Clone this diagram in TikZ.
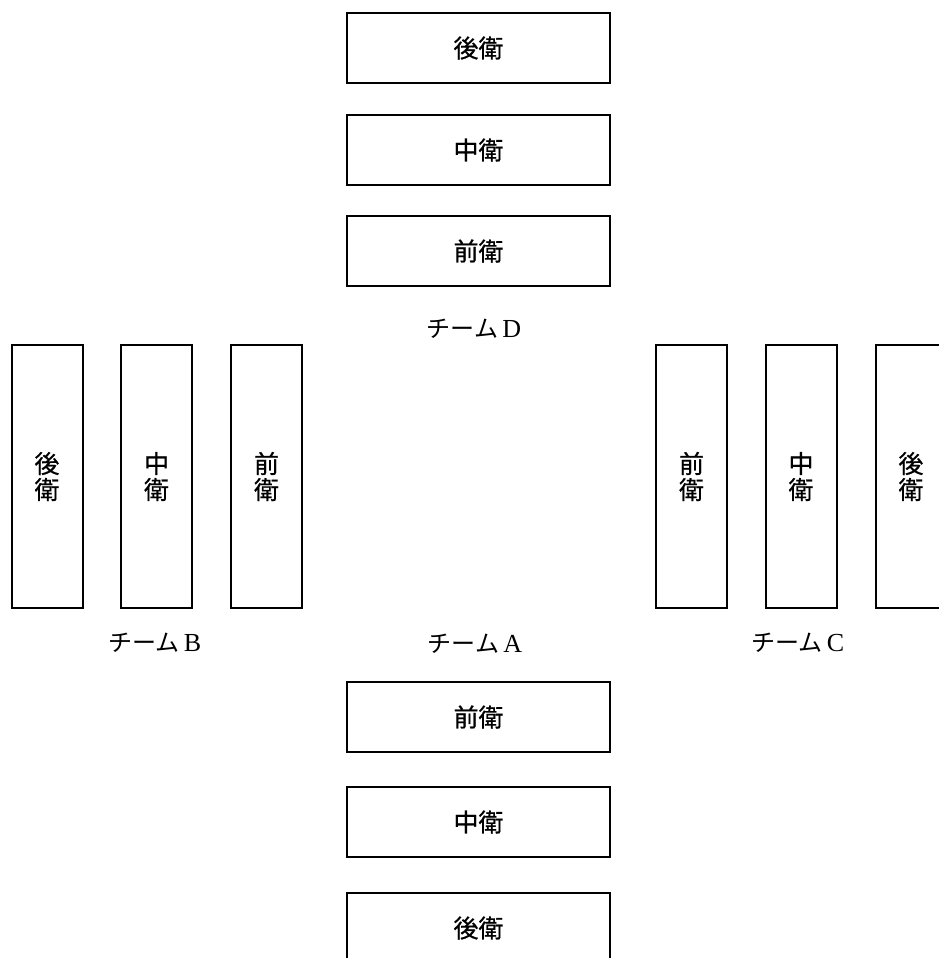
\documentclass[tikz,border=0pt]{standalone}
\usepackage{fontspec}
\newfontfamily\jp{Noto Sans CJK JP}
\newfontfamily\jpb[FakeBold=0.6]{Noto Sans CJK JP}
\newfontfamily\lat{Liberation Serif}
\newcommand{\teamlbl}[1]{チーム\hspace{4pt}{\lat\fontsize{26}{28}\selectfont #1}}
\begin{document}
\begin{tikzpicture}[x=1pt,y=-1pt,
  hbox/.style={draw,line width=2pt,minimum width=263pt,minimum height=70pt,inner sep=0pt,font=\jpb\fontsize{25}{26}\selectfont},
  vbox/.style={draw,line width=2pt,minimum width=71pt,minimum height=263pt,inner sep=0pt,align=center,font=\jpb\fontsize{25}{26}\selectfont},
  team/.style={inner sep=0pt,font=\jp\fontsize{24}{26}\selectfont}]
\useasboundingbox (0,0) rectangle (939,958);
% team D (top)
\node[hbox] (d3) at (478.5,48) {後衛};
\node[hbox] (d2) at (478.5,150) {中衛};
\node[hbox] (d1) at (478.5,251) {前衛};
\node[team] (td) at (474,329) {\teamlbl{D}};
% team B (left)
\node[vbox] (b3) at (47,476.5) {後\\衛};
\node[vbox] (b2) at (156.5,476.5) {中\\衛};
\node[vbox] (b1) at (266.5,476.5) {前\\衛};
\node[team] (tb) at (155,643) {\teamlbl{B}};
% team C (right)
\node[vbox] (c1) at (691.5,476.5) {前\\衛};
\node[vbox] (c2) at (801,476.5) {中\\衛};
\node[vbox] (c3) at (911,476.5) {後\\衛};
\node[team] (tc) at (798,643) {\teamlbl{C}};
% team A (bottom)
\node[team] (ta) at (475,644) {\teamlbl{A}};
\node[hbox] (a1) at (478.5,717) {前衛};
\node[hbox] (a2) at (478.5,822) {中衛};
\node[hbox] (a3) at (478.5,928) {後衛};
\end{tikzpicture}
\end{document}
